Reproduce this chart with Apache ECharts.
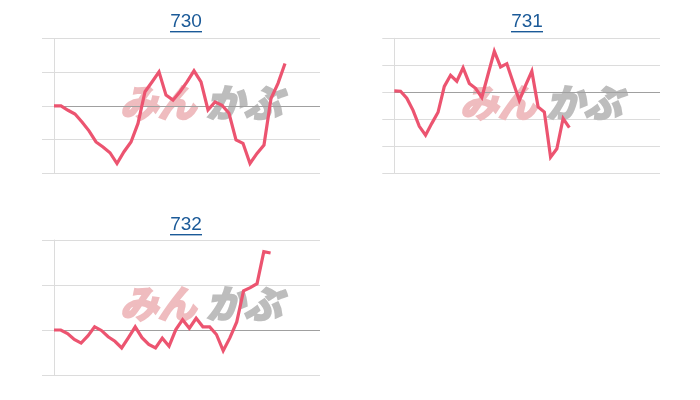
<!DOCTYPE html>
<html>
<head>
<meta charset="utf-8">
<script src="https://cdn.jsdelivr.net/npm/echarts@6/dist/echarts.min.js"></script>
<style>html,body{margin:0;padding:0;background:#fff}#c{width:700px;height:400px}</style>
</head>
<body>
<div id="c"></div>
<script>
// Titles (stock codes)
var titles = ['730', '731', '732'];
// Price change series (units of one gridline step)
var s730 = [0, 0, -0.13, -0.24, -0.48, -0.74, -1.07, -1.22, -1.39, -1.71, -1.36, -1.07, -0.52, 0.42, 0.71, 1.01, 0.32, 0.17, 0.42, 0.71, 1.04, 0.71, -0.12, 0.12, 0.02, -0.22, -1.01, -1.11, -1.71, -1.41, -1.16, 0.22, 0.67, 1.26];
var s731 = [0.05, 0.04, -0.22, -0.67, -1.26, -1.59, -1.15, -0.74, 0.22, 0.63, 0.41, 0.91, 0.33, 0.15, -0.19, 0.67, 1.52, 0.94, 1.06, 0.37, -0.30, 0.26, 0.78, -0.54, -0.73, -2.40, -2.09, -0.97, -1.31];
var s732 = [0, 0, -0.08, -0.21, -0.29, -0.13, 0.07, -0.01, -0.15, -0.25, -0.40, -0.17, 0.07, -0.17, -0.32, -0.40, -0.18, -0.36, 0.01, 0.23, 0.04, 0.26, 0.07, 0.07, -0.10, -0.46, -0.17, 0.18, 0.87, 0.94, 1.03, 1.74, 1.71];
// y-axis ranges
var yMin = [-2, -3, -1];
var yMax = [2, 2, 2];
// x extents (number of slots on time axis)
var xMax = [38, 42.5, 39.3];

var seriesData = [s730, s731, s732];
var grids = [
  {left: 54, right: 380, top: 38.5, bottom: 226.7},
  {left: 394.3, right: 40, top: 38.3, bottom: 226.7},
  {left: 54, right: 380, top: 240, bottom: 25}
];
var titlePos = [[186, 22], [527, 22], [186, 225]];
var wmPos = [[120, 103], [460, 103], [120, 304]];

var chart = echarts.init(document.getElementById('c'), null, {renderer: 'canvas'});
var xAxes = [], yAxes = [], series = [], graphics = [];
var wmFont = 'italic bold 38px "Noto Sans CJK JP"';
for (var i = 0; i < 3; i++) {
  xAxes.push({gridIndex: i, type: 'value', min: 0, max: xMax[i], show: false});
  yAxes.push({
    gridIndex: i, type: 'value', min: yMin[i], max: yMax[i], interval: 1,
    axisLabel: {show: false},
    axisLine: {show: true, lineStyle: {color: '#dcdcdc', width: 1}},
    axisTick: {show: true, length: 12, lineStyle: {color: '#dcdcdc'}},
    splitLine: {show: true, lineStyle: {color: '#dcdcdc', width: 1}}
  });
  var d = seriesData[i].map(function (v, k) { return [k, v]; });
  series.push({
    type: 'line', xAxisIndex: i, yAxisIndex: i, data: d,
    showSymbol: false, symbol: 'none', z: 5,
    lineStyle: {color: '#ec5470', width: 3.2, join: 'miter'},
    markLine: {
      silent: true, symbol: 'none', label: {show: false},
      lineStyle: {color: '#a0a0a0', width: 1, type: 'solid'},
      data: [{yAxis: 0}]
    }
  });
  graphics.push({
    type: 'text', x: titlePos[i][0], y: titlePos[i][1], z: 10,
    style: {text: titles[i], fill: '#1b5a98', font: '19px "Liberation Sans", Arial, sans-serif', textAlign: 'center', textVerticalAlign: 'middle'}
  });
  graphics.push({
    type: 'rect', shape: {x: titlePos[i][0] - 16, y: titlePos[i][1] + 9, width: 32, height: 1.4},
    style: {fill: '#1b5a98'}, z: 10
  });
  graphics.push({
    type: 'text', x: wmPos[i][0], y: wmPos[i][1], z: 1,
    style: {text: 'みん', fill: '#efbcbf', stroke: '#efbcbf', lineWidth: 2.5, font: wmFont, textVerticalAlign: 'middle'}
  });
  graphics.push({
    type: 'text', x: wmPos[i][0] + 86, y: wmPos[i][1], z: 1,
    style: {text: 'かぶ', fill: '#bdbdbd', stroke: '#bdbdbd', lineWidth: 2.5, font: wmFont, textVerticalAlign: 'middle'}
  });
}
chart.setOption({
  animation: false,
  grid: grids,
  xAxis: xAxes,
  yAxis: yAxes,
  series: series,
  graphic: graphics
});
</script>
</body>
</html>
